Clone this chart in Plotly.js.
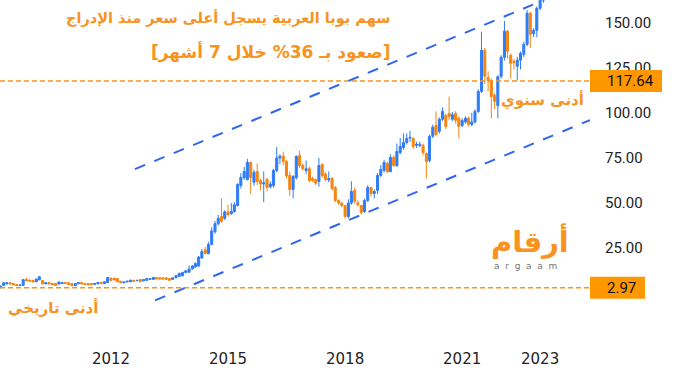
<!DOCTYPE html>
<html>
<head>
<meta charset="utf-8">
<script src="https://cdn.plot.ly/plotly-3.0.1.min.js"></script>
<style>html,body{margin:0;padding:0;background:#fff;}#chart{width:673px;height:376px;}</style>
</head>
<body>
<div id="chart"></div>
<script>
// Monthly candles, first month = March 2009
const startYear = 2009, startMonth = 3;

const openP = [
3.0,4.3,5.1,5.7,5.4,4.8,4.2,4.3,7.5,7.2,
7.1,6.3,7.4,7.0,5.1,5.8,5.4,5.4,5.0,5.3,
5.9,5.7,5.3,4.1,5.2,5.9,5.4,5.3,5.3,4.8,
5.1,5.9,5.3,5.9,8.3,8.3,8.1,6.6,5.7,6.2,
6.3,7.1,6.9,7.5,6.8,7.1,7.6,7.6,8.7,8.5,
8.5,8.5,8.1,7.6,8.5,9.2,9.6,11.4,11.6,
13.4,14.5,15.0,19.5,24.0,22.0,27.0,34.0,38.5,42.5,41.5,
45.0,44.0,45.3,48.6,59.7,64.0,63.0,72.5,61.5,67.5,
62.5,60.5,63.0,59.0,59.7,68.0,75.0,76.0,73.0,65.3,
57.5,64.0,76.4,70.8,68.0,69.0,63.6,63.0,62.0,71.4,
66.0,62.8,63.6,58.6,51.4,50.0,48.6,42.5,50.0,57.0,
50.0,48.6,45.3,51.4,58.6,55.3,57.0,65.3,68.0,72.0,
67.5,75.3,70.8,78.0,80.8,83.6,86.0,85.8,82.0,82.0,
82.0,77.5,73.6,87.0,93.0,89.7,96.4,98.6,99.7,96.5,
99.7,97.0,93.0,95.0,97.0,93.6,95.0,100.8,111.9,134.7,
119.7,118.0,109.7,104.0,120.3,130.8,145.3,131.9,128.5,125.8,
129.2,132.5,138.0,155.3,143.9,145.8,158.0,162.5
];
const closeP = [
3.9,5.7,5.7,5.1,4.6,4.3,4.5,7.5,6.8,6.6,
6.2,7.8,9.1,5.1,5.8,5.1,4.6,4.3,6.2,5.8,
5.3,4.8,4.1,5.3,5.9,5.1,4.8,4.6,4.6,5.4,
5.9,5.4,6.3,8.7,7.1,7.3,6.3,5.7,6.2,6.6,
7.1,6.6,7.1,6.3,7.5,8.1,8.1,8.7,7.8,7.8,
7.8,7.6,7.1,8.5,9.8,11.0,11.5,12.4,13.4,
15.0,16.5,20.0,23.0,22.0,27.0,34.5,38.5,41.5,39.8,45.0,
43.5,45.3,49.0,60.3,64.2,67.5,72.5,64.0,67.0,62.0,
60.5,61.2,58.6,60.5,68.0,75.0,76.0,73.0,65.0,57.5,
64.7,75.8,70.8,69.0,69.0,62.5,62.5,61.0,70.8,65.3,
63.0,63.5,58.0,51.4,50.0,48.6,42.5,50.0,56.4,51.0,
49.0,44.7,51.4,58.6,55.3,56.4,65.3,68.6,72.5,67.5,
75.3,70.8,78.6,81.4,83.6,85.8,86.4,81.4,82.5,82.5,
78.0,73.0,87.0,92.0,88.0,96.4,100.8,92.5,98.0,99.0,
95.8,92.5,95.8,97.0,93.6,95.0,100.8,111.9,134.7,120.3,
118.0,109.0,106.4,120.0,130.8,145.3,134.2,127.5,127.8,129.2,
133.0,138.0,155.3,143.6,145.8,158.0,162.5,170.0
];
const highP = [
4.2,6.0,6.0,5.9,5.6,5.0,4.7,7.8,8.6,7.4,
7.3,8.0,9.3,7.3,6.0,6.0,5.6,5.6,6.4,6.0,
6.1,5.9,5.5,5.5,6.1,6.1,5.6,5.5,5.5,5.6,
6.1,6.1,6.5,9.0,8.6,8.5,8.3,6.8,6.4,6.8,
7.6,7.3,7.3,7.7,7.7,8.3,8.3,9.0,8.9,8.7,
8.7,8.7,8.3,8.7,10.0,11.3,11.8,12.8,15.4,
15.6,17.0,20.5,24.5,25.5,28.5,36.5,40.0,43.5,52.5,46.0,
49.0,50.0,50.5,61.0,66.5,70.0,74.5,73.0,68.5,72.0,
63.5,67.5,64.0,62.0,69.0,81.0,77.0,78.5,74.0,67.5,
65.5,76.5,79.0,72.0,73.5,70.0,64.5,63.5,75.0,72.0,
67.0,67.5,64.5,59.5,52.0,50.5,49.0,52.0,62.0,58.5,
51.5,49.0,52.5,60.0,59.0,57.5,66.5,71.0,74.0,73.0,
77.0,76.5,83.0,86.0,88.6,88.6,90.0,86.5,84.0,84.0,
83.0,78.0,88.0,93.5,100.8,97.5,103.0,99.5,109.0,100.5,
101.0,98.0,97.0,98.0,98.0,100.0,102.0,113.0,145.0,136.0,
123.0,119.0,111.0,121.0,132.0,151.0,146.0,133.0,130.0,131.0,
134.0,139.5,157.0,156.0,147.0,159.0,165.0,172.0
];
const lowP = [
2.97,4.0,4.9,4.9,4.4,4.1,4.0,4.1,6.6,6.4,
6.0,6.1,7.2,5.0,5.0,4.9,4.5,4.2,4.9,5.2,
5.2,4.7,4.0,4.0,5.0,5.0,4.7,4.5,4.5,4.7,
5.0,5.3,5.2,5.8,7.0,7.1,6.2,5.5,5.5,6.0,
6.1,6.4,6.8,6.1,6.6,7.0,7.5,7.5,7.7,7.7,
7.7,7.5,7.0,7.4,8.3,9.0,9.4,11.2,11.4,
13.0,14.0,14.7,19.0,21.5,21.5,26.5,33.0,37.5,39.0,40.5,
42.5,43.5,44.5,48.0,58.0,63.0,62.5,55.0,59.5,60.0,
57.0,50.5,56.5,58.0,58.5,67.0,71.5,71.0,63.5,54.0,
52.5,63.0,69.5,68.0,66.0,61.5,61.5,60.0,59.0,64.0,
62.0,61.5,57.0,50.5,49.0,47.5,41.4,41.5,49.0,49.5,
48.0,43.5,44.5,50.5,53.5,52.5,55.0,64.5,67.0,66.5,
67.0,70.0,70.0,77.0,79.5,82.5,84.0,80.0,80.5,81.0,
76.5,63.6,72.5,86.0,87.0,88.5,95.5,91.0,96.0,95.5,
94.0,85.8,92.0,94.0,92.5,92.5,94.0,100.0,111.0,116.0,
112.0,96.9,102.0,97.0,119.0,129.0,130.0,119.0,124.0,118.0,
124.0,131.0,137.0,136.0,142.0,142.0,157.0,161.0
];

// Axis ticks
const yearTickVals = ['2012-01-01','2015-01-01','2018-01-01','2021-01-01','2023-01-01'];
const yearTickText = ['2012','2015','2018','2021','2023'];
const priceTickVals = [25,50,75,100,125,150];

// Key levels
const yearLow = 117.64;
const allTimeLow = 2.97;

// Trend channel (date, price)
const upperChannelX = ['2012-08-12','2022-10-26'];
const upperChannelY = [68.8, 160.0];
const lowerChannelX = ['2013-02-17','2024-04-12'];
const lowerChannelY = [-4.0, 96.0];

// Texts
const titleLine1 = 'سهم بوبا العربية يسجل أعلى سعر منذ الإدراج';
const titleLine2 = '[صعود بـ 36% خلال 7 أشهر]';
const yearLowText = 'أدنى سنوي';
const allLowText = 'أدنى تاريخي';

const dates = openP.map((_, i) => {
  const m0 = startMonth - 1 + i;
  const y = startYear + Math.floor(m0 / 12);
  const m = (m0 % 12) + 1;
  return y + '-' + String(m).padStart(2, '0') + '-01';
});

const BLUE = '#2f7cf6';
const ORANGE = '#f5850f';
const TEXT_ORANGE = '#f7931e';
const LABEL_ORANGE = '#ff9800';

const trace = {
  type: 'candlestick',
  x: dates, open: openP, high: highP, low: lowP, close: closeP,
  increasing: {line: {color: BLUE, width: 1}, fillcolor: BLUE},
  decreasing: {line: {color: ORANGE, width: 1}, fillcolor: ORANGE},
  whiskerwidth: 0,
  hoverinfo: 'skip',
  showlegend: false
};

const arabicFont = 'DejaVu Sans, sans-serif';

const layout = {
  width: 673, height: 376,
  margin: {l: 0, r: 83, t: 0, b: 36},
  paper_bgcolor: '#ffffff', plot_bgcolor: '#ffffff',
  showlegend: false,
  boxgap: 0.02,
  xaxis: {
    type: 'date',
    range: ['2009-02-26', '2024-04-12'],
    rangeslider: {visible: false},
    showgrid: false, zeroline: false, showline: false, ticks: '',
    tickvals: yearTickVals, ticktext: yearTickText,
    tickfont: {family: 'DejaVu Sans, sans-serif', size: 15, color: '#222'},
    ticklabelstandoff: 8
  },
  yaxis: {
    side: 'right',
    range: [-26.0, 162.6],
    showgrid: false, zeroline: false, showline: false, ticks: '',
    tickvals: priceTickVals, tickformat: '.2f',
    tickfont: {family: 'Roboto, sans-serif', size: 15, color: '#222'},
    ticklabelstandoff: 14
  },
  shapes: [
    {type: 'line', xref: 'paper', yref: 'y', x0: 0, x1: 1, y0: yearLow, y1: yearLow,
     line: {color: TEXT_ORANGE, width: 1.5, dash: '5px,3px'}},
    {type: 'line', xref: 'paper', yref: 'y', x0: 0, x1: 1, y0: allTimeLow, y1: allTimeLow,
     line: {color: TEXT_ORANGE, width: 1.5, dash: '5px,3px'}},
    {type: 'line', xref: 'x', yref: 'y', x0: upperChannelX[0], x1: upperChannelX[1], y0: upperChannelY[0], y1: upperChannelY[1],
     line: {color: '#2f66f0', width: 2, dash: '11px,10px'}},
    {type: 'line', xref: 'x', yref: 'y', x0: lowerChannelX[0], x1: lowerChannelX[1], y0: lowerChannelY[0], y1: lowerChannelY[1],
     line: {color: '#2f66f0', width: 2, dash: '11px,10px'}},
    {type: 'rect', xref: 'paper', yref: 'y', x0: 1, x1: 1 + 72/590, y0: yearLow - 6.1, y1: yearLow + 6.1,
     fillcolor: LABEL_ORANGE, line: {width: 0}},
    {type: 'rect', xref: 'paper', yref: 'y', x0: 1, x1: 1 + 55/590, y0: allTimeLow - 6.1, y1: allTimeLow + 6.1,
     fillcolor: LABEL_ORANGE, line: {width: 0}}
  ],
  annotations: [
    {xref: 'paper', yref: 'y', x: 1 + 15/590, y: yearLow, xanchor: 'left', yanchor: 'middle',
     text: yearLow.toFixed(2), showarrow: false, font: {family: 'Roboto, sans-serif', size: 15, color: '#111'}},
    {xref: 'paper', yref: 'y', x: 1 + 15/590, y: allTimeLow, xanchor: 'left', yanchor: 'middle',
     text: allTimeLow.toFixed(2), showarrow: false, font: {family: 'Roboto, sans-serif', size: 15, color: '#111'}},
    {xref: 'paper', yref: 'paper', x: 393/590, y: (340-18)/340, xanchor: 'right', yanchor: 'middle',
     text: '<b>' + titleLine1 + '</b>', showarrow: false, font: {family: arabicFont, size: 14.5, color: TEXT_ORANGE}},
    {xref: 'paper', yref: 'paper', x: 393/590, y: (340-52)/340, xanchor: 'right', yanchor: 'middle',
     text: '<b>' + titleLine2 + '</b>', showarrow: false, font: {family: arabicFont, size: 17, color: TEXT_ORANGE}},
    {xref: 'paper', yref: 'paper', x: 586/590, y: (340-100)/340, xanchor: 'right', yanchor: 'middle',
     text: '<b>' + yearLowText + '</b>', showarrow: false, font: {family: arabicFont, size: 15, color: TEXT_ORANGE}},
    {xref: 'paper', yref: 'paper', x: 100/590, y: (340-307)/340, xanchor: 'right', yanchor: 'middle',
     text: '<b>' + allLowText + '</b>', showarrow: false, font: {family: arabicFont, size: 15, color: TEXT_ORANGE}},
    {xref: 'paper', yref: 'paper', x: 530/590, y: (340-241)/340, xanchor: 'center', yanchor: 'middle',
     text: '<b>أرقام</b>', showarrow: false, font: {family: arabicFont, size: 29, color: TEXT_ORANGE}},
    {xref: 'paper', yref: 'paper', x: 525/590, y: (340-266)/340, xanchor: 'center', yanchor: 'middle',
     text: 'a  r  g  a  a  m', showarrow: false, font: {family: 'DejaVu Sans, sans-serif', size: 9, color: '#777'}}
  ]
};

Plotly.newPlot('chart', [trace], layout, {staticPlot: true, displayModeBar: false});
</script>
</body>
</html>
